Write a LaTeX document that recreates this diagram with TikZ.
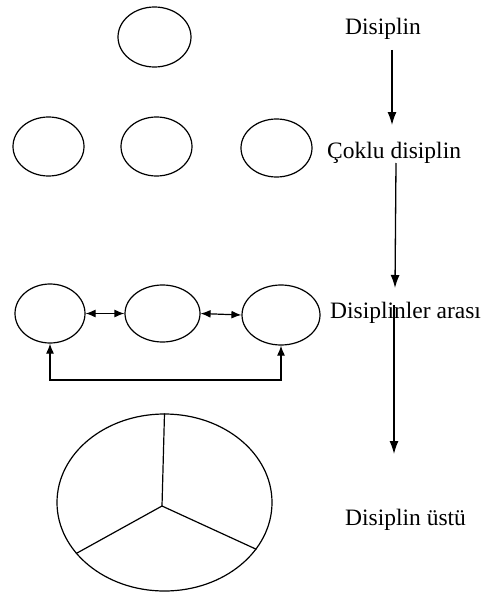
\documentclass[tikz,border=0pt]{standalone}
\usepackage{fontspec}
\setmainfont{Liberation Serif}
\usetikzlibrary{shapes.geometric,arrows.meta}
\begin{document}
\begin{tikzpicture}[x=1pt,y=-1pt,
  ell/.style={draw,ellipse,line width=1.2pt,inner sep=0pt},
  lbl/.style={anchor=base west,inner sep=0pt,font=\fontsize{23.5}{28}\selectfont},
  arr/.style={line width=1.3pt,-{Latex[length=13pt,width=9pt]}},
  tip/.tip={Latex[length=10pt,width=8pt]},
  darr/.style={line width=1.2pt,tip-tip},
  spoke/.style={line width=1.2pt}]
\useasboundingbox (0,0) rectangle (492,594);
% row 1
\node[ell,minimum width=73pt,minimum height=60pt] (t) at (154.5,37) {};
% row 2
\node[ell,minimum width=71pt,minimum height=59pt] (m1) at (48.5,146.5) {};
\node[ell,minimum width=71pt,minimum height=59pt] (m2) at (156.5,146.5) {};
\node[ell,minimum width=71pt,minimum height=58pt] (m3) at (276.5,148) {};
% row 3
\node[ell,minimum width=70pt,minimum height=59pt] (r1) at (50,313.5) {};
\node[ell,minimum width=75pt,minimum height=57pt] (r2) at (162.5,313.5) {};
\node[ell,minimum width=78pt,minimum height=60pt] (r3) at (281,315) {};
\draw[darr] (r1.east) -- (r2.west);
\draw[darr] (r2.east) -- (r3.west);
\coordinate (bot) at (0,380);
\draw[darr] (r1.south) -- (r1.south |- bot) -- (r3.south |- bot) -- (r3.south);
% row 4
\node[ell,minimum width=215pt,minimum height=177pt] (big) at (164.5,502.5) {};
\coordinate (hub) at (162,506);
\draw[spoke] (hub) -- (big.north);
\draw[spoke] (hub) -- (big.210.5);
\draw[spoke] (hub) -- (big.333.3);
% labels
\node[lbl] (l1) at (345,35) {Disiplin};
\node[lbl] (l2) at (327,158) {Çoklu disiplin};
\node[lbl] (l3) at (330,318) {Disiplinler arası};
\node[lbl] (l4) at (345,525) {Disiplin üstü};
% vertical arrows
\coordinate (a1s) at (392,50);  \coordinate (a1e) at (392,125);
\coordinate (a2s) at (396,163); \coordinate (a2e) at (395,288);
\coordinate (a3s) at (394,305); \coordinate (a3e) at (394,454);
\draw[arr] (a1s) -- (a1e);
\draw[arr] (a2s) -- (a2e);
\draw[arr] (a3s) -- (a3e);
\end{tikzpicture}
\end{document}
